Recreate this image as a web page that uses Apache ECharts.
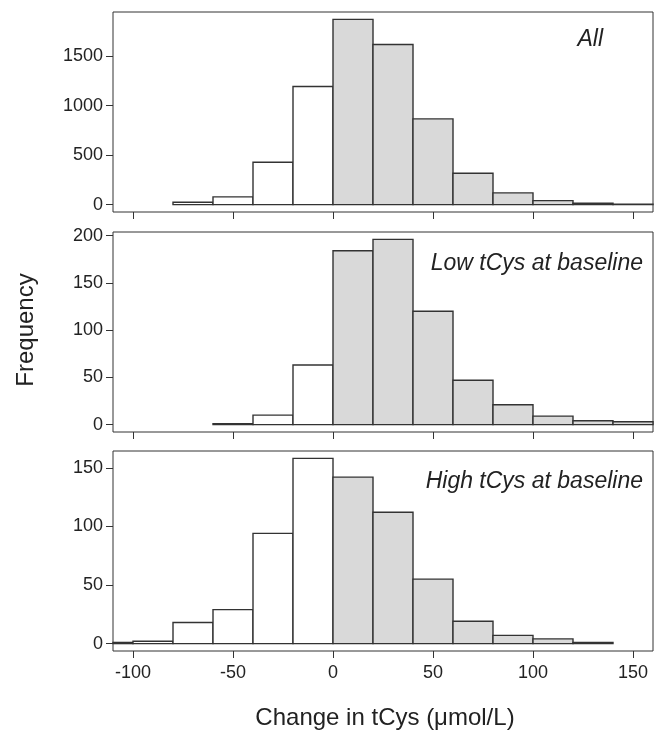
<!DOCTYPE html>
<html>
<head>
<meta charset="utf-8">
<script src="https://cdn.jsdelivr.net/npm/echarts@6/dist/echarts.min.js"></script>
<style>html,body{margin:0;padding:0;background:#fff;}#c{width:655px;height:731px;}</style>
</head>
<body>
<div id="c"></div>
<script>
// Histogram bins (width 20), starting edges
const binStarts = [-120, -100, -80, -60, -40, -20, 0, 20, 40, 60, 80, 100, 120, 140];
const binWidth = 20;
// Frequencies per bin (null = no bar drawn)
const allCounts  = [null, null, 24, 78, 428, 1193, 1871, 1618, 866, 317, 118, 40, 13, 3];
const lowCounts  = [null, null, null, 1, 10, 63, 184, 196, 120, 47, 21, 9, 4, 3];
const highCounts = [1, 2, 18, 29, 94, 158, 142, 112, 55, 19, 7, 4, 1, null];
const panelTitles = ['All', 'Low tCys at baseline', 'High tCys at baseline'];
const xTicks = [-100, -50, 0, 50, 100, 150];
const yTicks = [[0, 500, 1000, 1500], [0, 50, 100, 150, 200], [0, 50, 100, 150]];
const xTitle = 'Change in tCys (\u03bcmol/L)';
const yTitle = 'Frequency';

const FONT = 'Liberation Sans, Arial, Helvetica, sans-serif';
const TXT = '#222';
const LINE = '#333';
const panels = [allCounts, lowCounts, highCounts];
const gridTops = [12, 232, 451];
const gridH = 200;

const grids = [], xAxes = [], yAxes = [], series = [];
panels.forEach((counts, i) => {
  grids.push({ left: 113, right: 2, top: gridTops[i], height: gridH, show: true,
    borderColor: LINE, borderWidth: 1, backgroundColor: 'transparent' });
  xAxes.push({ type: 'value', gridIndex: i, min: -110, max: 160, position: 'bottom',
    axisLine: { show: false, onZero: false },
    splitLine: { show: false },
    axisTick: { show: true, length: 7, inside: false, customValues: xTicks,
      lineStyle: { color: LINE, width: 1 } },
    axisLabel: { show: i === 2, customValues: xTicks, fontFamily: FONT, fontSize: 18,
      color: TXT, margin: 13, formatter: v => String(v) } });
  const mx = Math.max(...counts.filter(v => v != null));
  yAxes.push({ type: 'value', gridIndex: i, min: -0.04 * mx, max: 1.04 * mx, position: 'left',
    axisLine: { show: false, onZero: false },
    splitLine: { show: false },
    axisTick: { show: true, length: 7, inside: false, customValues: yTicks[i],
      lineStyle: { color: LINE, width: 1 } },
    axisLabel: { show: true, customValues: yTicks[i], fontFamily: FONT, fontSize: 18,
      color: TXT, margin: 10, formatter: v => String(v) } });
  const data = [];
  binStarts.forEach((s, k) => {
    if (counts[k] != null) data.push([s, s + binWidth, counts[k]]);
  });
  series.push({
    type: 'custom', xAxisIndex: i, yAxisIndex: i, data: data,
    encode: { x: [0, 1], y: 2 },
    renderItem: function (params, api) {
      const p0 = api.coord([api.value(0), 0]);
      const p1 = api.coord([api.value(1), api.value(2)]);
      const cs = params.coordSys;
      const shape = echarts.graphic.clipRectByRect(
        { x: p0[0], y: p1[1], width: p1[0] - p0[0], height: p0[1] - p1[1] },
        { x: cs.x, y: cs.y, width: cs.width, height: cs.height });
      if (!shape) return;
      return { type: 'rect', shape: shape,
        style: { fill: api.value(0) >= 0 ? '#d9d9d9' : '#ffffff', stroke: LINE, lineWidth: 1.4 } };
    }
  });
});

const titlePos = [[603, 40, 'right'], [643, 264, 'right'], [643, 482, 'right']];
const graphics = panelTitles.map((t, i) => ({
  type: 'text', x: titlePos[i][0], y: titlePos[i][1],
  style: { text: t, fill: TXT, font: 'italic 23px ' + FONT, textAlign: titlePos[i][2], textVerticalAlign: 'middle' }
}));
graphics.push({ type: 'text', x: 385, y: 718,
  style: { text: xTitle, fill: TXT, font: '24px ' + FONT, textAlign: 'center', textVerticalAlign: 'middle' } });
graphics.push({ type: 'text', x: 26, y: 330, rotation: Math.PI / 2,
  style: { text: yTitle, fill: TXT, font: '24px ' + FONT, textAlign: 'center', textVerticalAlign: 'middle' } });

const chart = echarts.init(document.getElementById('c'), null, { renderer: 'canvas' });
chart.setOption({
  animation: false,
  backgroundColor: '#fff',
  grid: grids, xAxis: xAxes, yAxis: yAxes, series: series,
  graphic: graphics
});
</script>
</body>
</html>
